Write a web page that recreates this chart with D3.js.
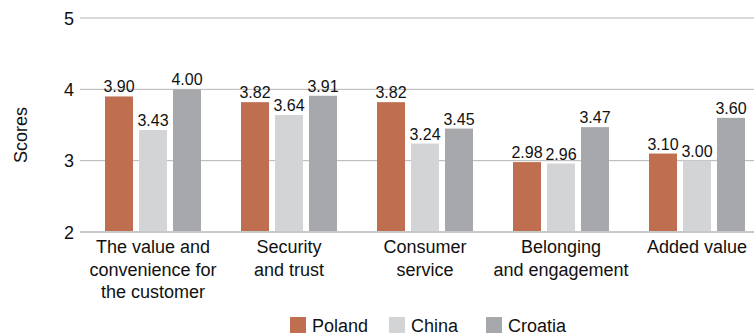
<!DOCTYPE html>
<html>
<head>
<meta charset="utf-8">
<script src="https://cdn.jsdelivr.net/npm/d3@7"></script>
<style>
  body { margin: 0; background: #fff; }
  text { font-family: "Liberation Sans", Arial, sans-serif; fill: #111; }
</style>
</head>
<body>
<div id="chart-area"></div>
<script>
// data
const categories = [
	['The value and', 'convenience for', 'the customer'],
	['Security', 'and trust'],
	['Consumer', 'service'],
	['Belonging', 'and engagement'],
	['Added value']
];
const seriesNames = ['Poland', 'China', 'Croatia'];
const poland = [3.90, 3.82, 3.82, 2.98, 3.10];
const china = [3.43, 3.64, 3.24, 2.96, 3.00];
const croatia = [4.00, 3.91, 3.45, 3.47, 3.60];
const yTicks = [2, 3, 4, 5];
const colors = ['#bf6e50', '#d3d4d6', '#a7a8ab'];

const W = 754, H = 336;
const plotTop = 18, plotBottom = 232, plotLeft = 80;

const svg = d3.select('#chart-area').append('svg')
	.attr('width', W)
	.attr('height', H);

const catKeys = categories.map((c, i) => i);
const values = [poland, china, croatia];

// x scales
let x0 = d3.scaleBand()
	.domain(catKeys)
	.range([85, 765]);

let x1 = d3.scaleBand()
	.domain(seriesNames)
	.range([20, 116])
	.paddingInner(0.1765);

let y = d3.scaleLinear()
	.domain([2, 5])
	.range([plotBottom, plotTop]);

// gridlines
svg.selectAll('.grid')
	.data(yTicks.filter(t => t > 2))
	.enter()
	.append('line')
		.attr('x1', plotLeft)
		.attr('x2', W)
		.attr('y1', d => y(d))
		.attr('y2', d => y(d))
		.attr('stroke', '#b5b5b8')
		.attr('stroke-width', 1);

// y tick labels
svg.selectAll('.ytick')
	.data(yTicks)
	.enter()
	.append('text')
		.attr('x', 74)
		.attr('y', d => y(d) + 6.5)
		.attr('text-anchor', 'end')
		.attr('font-size', '18px')
		.text(d => d);

// y label
svg.append('text')
	.attr('x', -135)
	.attr('y', 27)
	.attr('font-size', '18px')
	.attr('text-anchor', 'middle')
	.attr('transform', 'rotate(-90)')
	.text('Scores');

// bars
let groups = svg.selectAll('.group')
	.data(catKeys)
	.enter()
	.append('g')
		.attr('transform', d => 'translate(' + x0(d) + ',0)');

groups.selectAll('rect')
	.data(i => seriesNames.map((s, j) => ({ s: s, j: j, v: values[j][i] })))
	.enter()
	.append('rect')
		.attr('x', d => x1(d.s))
		.attr('y', d => y(d.v))
		.attr('width', x1.bandwidth())
		.attr('height', d => plotBottom - y(d.v))
		.attr('fill', d => colors[d.j]);

groups.selectAll('.val')
	.data(i => seriesNames.map((s, j) => ({ s: s, j: j, v: values[j][i] })))
	.enter()
	.append('text')
		.attr('x', d => x1(d.s) + x1.bandwidth() / 2)
		.attr('y', d => y(d.v) - 4)
		.attr('text-anchor', 'middle')
		.attr('font-size', '16px')
		.text(d => d.v.toFixed(2));

// x axis line
svg.append('line')
	.attr('x1', plotLeft)
	.attr('x2', W)
	.attr('y1', plotBottom)
	.attr('y2', plotBottom)
	.attr('stroke', '#c8c8cb')
	.attr('stroke-width', 2);

// category labels
groups.append('text')
	.attr('text-anchor', 'middle')
	.attr('font-size', '18px')
	.selectAll('tspan')
	.data(i => categories[i])
	.enter()
	.append('tspan')
		.attr('x', x0.bandwidth() / 2)
		.attr('y', (d, k) => 253 + k * 22.5)
		.text(d => d);

// legend
const legendX = [290, 389, 486];
let legend = svg.selectAll('.legend')
	.data(seriesNames)
	.enter()
	.append('g')
		.attr('transform', (d, i) => 'translate(' + legendX[i] + ',317)');

legend.append('rect')
	.attr('width', 16)
	.attr('height', 16)
	.attr('fill', (d, i) => colors[i]);

legend.append('text')
	.attr('x', 22)
	.attr('y', 15)
	.attr('font-size', '18px')
	.text(d => d);
</script>
</body>
</html>
